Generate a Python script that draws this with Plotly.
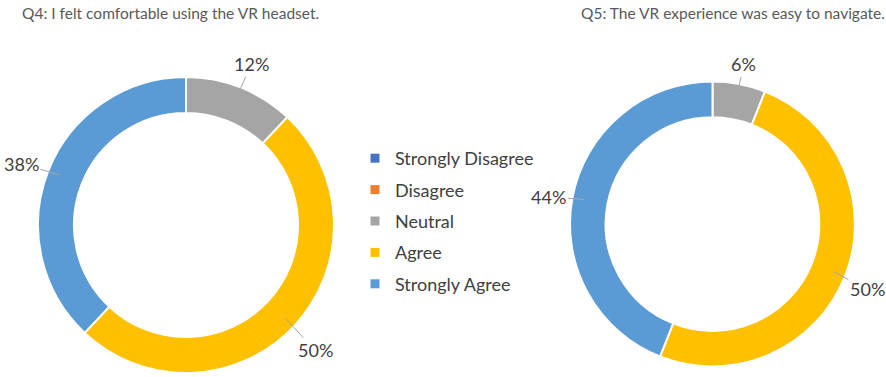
import math
import plotly.graph_objects as go

categories = ["Strongly Disagree", "Disagree", "Neutral", "Agree", "Strongly Agree"]
colors = ["#4472C4", "#ED7D31", "#A5A5A5", "#FFC000", "#5B9BD5"]
q4_values = [0, 0, 12, 50, 38]
q5_values = [0, 0, 6, 50, 44]
q4_title = "Q4: I felt comfortable using the VR headset."
q5_title = "Q5: The VR experience was easy to navigate."

W, H = 886, 377
FONT = "Lato"
TXT = "#404040"

# pie geometry in pixels: center, outer radius, hole fraction, label distance
pies = [
    dict(vals=q4_values, cx=186, cy=225, r=148, hole=0.757, title=q4_title, tx=170, lo=29),
    dict(vals=q5_values, cx=712.5, cy=224, r=142.5, hole=0.75, title=q5_title, tx=733, lo=24),
]

fig = go.Figure()
annotations = []
for p in pies:
    x0 = (p["cx"] - p["r"]) / W
    x1 = (p["cx"] + p["r"]) / W
    y0 = 1 - (p["cy"] + p["r"]) / H
    y1 = 1 - (p["cy"] - p["r"]) / H
    fig.add_trace(go.Pie(
        labels=categories, values=p["vals"], hole=p["hole"], sort=False,
        direction="clockwise", rotation=0,
        marker=dict(colors=colors, line=dict(color="white", width=2)),
        textinfo="none", hoverinfo="label+percent", showlegend=False,
        domain=dict(x=[x0, x1], y=[y0, y1]),
    ))
    total = sum(p["vals"])
    cum = 0
    for v in p["vals"]:
        if v > 0:
            mid = (cum + v / 2) / total * 2 * math.pi
            rp = p["r"] - 12
            px = p["cx"] + rp * math.sin(mid)
            py = p["cy"] - rp * math.cos(mid)
            rl = p["r"] + p["lo"]
            lx = p["cx"] + rl * math.sin(mid)
            ly = p["cy"] - rl * math.cos(mid) + 4
            annotations.append(dict(
                x=px / W, y=1 - py / H, xref="paper", yref="paper",
                text=f"{round(v / total * 100)}%", showarrow=True,
                arrowhead=0, arrowwidth=1, arrowcolor="#A6A6A6",
                ax=lx - px, ay=ly - py, standoff=0, startstandoff=0,
                font=dict(family=FONT, size=18, color=TXT),
            ))
        cum += v
    annotations.append(dict(
        x=p["tx"] / W, y=1 - 13 / H, xref="paper", yref="paper",
        text=p["title"], showarrow=False, xanchor="center", yanchor="middle",
        font=dict(family=FONT, size=15.5, color="#595959"),
    ))

for i, (c, col) in enumerate(zip(categories, colors)):
    fig.add_trace(go.Scatter(
        x=[None], y=[None], mode="markers", name=c,
        marker=dict(symbol="square", size=9, color=col),
        legendgroup=f"g{i}", showlegend=True, hoverinfo="skip",
    ))

fig.update_layout(
    width=W, height=H,
    margin=dict(l=0, r=0, t=0, b=0),
    paper_bgcolor="white", plot_bgcolor="white",
    xaxis=dict(visible=False), yaxis=dict(visible=False),
    annotations=annotations,
    legend=dict(
        x=355 / W, y=1 - 140 / H, xanchor="left", yanchor="top",
        font=dict(family=FONT, size=18, color=TXT),
        tracegroupgap=5, itemclick=False, bgcolor="rgba(0,0,0,0)",
    ),
)

fig.write_html("out.html", config={"displayModeBar": False},
               post_script="document.body.style.margin='0';")
